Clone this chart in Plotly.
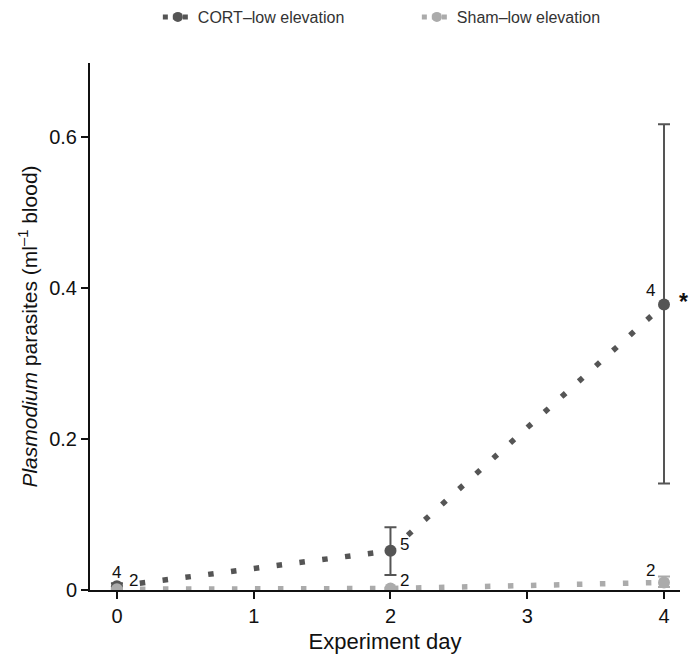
import plotly.graph_objects as go

days = [0, 2, 4]
cort_mean = [0.005, 0.052, 0.378]
cort_upper = [0.009, 0.083, 0.617]
cort_lower = [0.002, 0.020, 0.141]
cort_n = ["4", "5", "4"]

sham_mean = [0.001, 0.002, 0.010]
sham_upper = [0.002, 0.003, 0.018]
sham_lower = [0.0005, 0.001, 0.004]
sham_n = ["2", "2", "2"]

x_ticks = [0, 1, 2, 3, 4]
y_ticks = [0, 0.2, 0.4, 0.6]
y_ticklabels = ["0", "0.2", "0.4", "0.6"]

cort_color = "#555555"
sham_color = "#ababab"

fig = go.Figure()

def add_series(name, mean, upper, lower, color):
    fig.add_trace(go.Scatter(
        x=days, y=mean, mode="lines",
        line=dict(color=color, width=5.5, dash="5.5px,17.5px"),
        showlegend=False, hoverinfo="skip"))
    fig.add_trace(go.Scatter(
        x=days, y=mean, mode="markers", name=name,
        marker=dict(color=color, size=12, symbol="circle"),
        error_y=dict(type="data", symmetric=False,
                     array=[u - m for u, m in zip(upper, mean)],
                     arrayminus=[m - l for m, l in zip(mean, lower)],
                     color=color, thickness=2, width=6),
        showlegend=False))
    fig.add_trace(go.Scatter(
        x=[None], y=[None], mode="lines+markers", name=name,
        line=dict(color=color, width=5, dash="5px,5px"),
        marker=dict(color=color, size=10), showlegend=True))

add_series("CORT–low elevation", cort_mean, cort_upper, cort_lower, cort_color)
add_series("Sham–low elevation", sham_mean, sham_upper, sham_lower, sham_color)

lab_font = dict(family="Liberation Sans, Arial", size=17, color="#111")
ann = [
    (days[0], cort_mean[0], cort_n[0], 0, 14),
    (days[0], cort_mean[0], sham_n[0], 17, 6),
    (days[1], cort_mean[1], cort_n[1], 14, 6),
    (days[1], sham_mean[1], sham_n[1], 14, 8),
    (days[2], cort_mean[2], cort_n[2], -14, 14),
    (days[2], sham_mean[2], sham_n[2], -14, 12),
]
for x, y, t, dx, dy in ann:
    fig.add_annotation(x=x, y=y, text=t, showarrow=False, xshift=dx, yshift=dy, font=lab_font)
fig.add_annotation(x=days[2], y=cort_mean[2], text="<b>*</b>", showarrow=False, xshift=19, yshift=3,
                   font=dict(family="Liberation Sans, Arial", size=23, color="#111"))

fig.update_layout(
    width=692, height=661,
    paper_bgcolor="white", plot_bgcolor="white",
    margin=dict(l=90, r=12, t=63, b=71),
    font=dict(family="Liberation Sans, Arial", color="#111"),
    legend=dict(orientation="h", x=0.115, xanchor="left", yref="container", y=1.0, yanchor="top",
                font=dict(size=16, color="#333"), itemwidth=30, entrywidth=214),
    xaxis=dict(range=[-0.197, 4.117], tickvals=x_ticks, ticks="outside", ticklen=7, tickwidth=2,
               tickcolor="#111", showline=True, linecolor="#111", linewidth=2, showgrid=False,
               zeroline=False, tickfont=dict(size=20), automargin=False,
               title=dict(text="Experiment day", font=dict(size=22), standoff=8)),
    yaxis=dict(range=[0, 0.698], tickvals=y_ticks, ticktext=y_ticklabels, ticks="outside", ticklen=7,
               tickwidth=2, tickcolor="#111", showline=True, linecolor="#111", linewidth=2,
               showgrid=False, zeroline=False, tickfont=dict(size=20), automargin=False,
               title=dict(text="<i>Plasmodium</i> parasites (ml<sup>–1</sup> blood)", font=dict(size=21), standoff=6)),
)

fig.write_html("out.html", config={"displayModeBar": False},
               post_script="document.body.style.margin='0';")
